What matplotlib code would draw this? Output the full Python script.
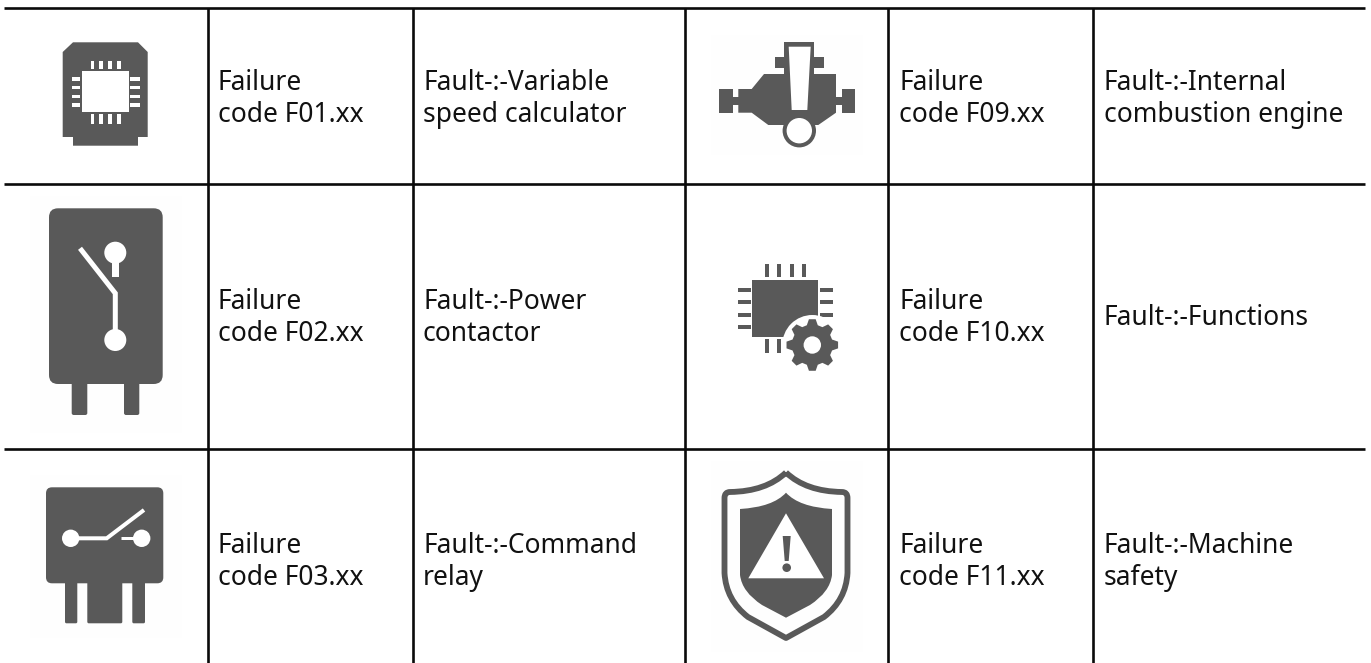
import numpy as np
import matplotlib
matplotlib.use('Agg')
import matplotlib.pyplot as plt
from matplotlib.patches import Circle, FancyBboxPatch, PathPatch, Polygon, Rectangle
from matplotlib.path import Path

# table contents
left_codes = [['Failure', 'code F01.xx'], ['Failure', 'code F02.xx'], ['Failure', 'code F03.xx']]
left_faults = [['Fault-:-Variable', 'speed calculator'], ['Fault-:-Power', 'contactor'], ['Fault-:-Command', 'relay']]
right_codes = [['Failure', 'code F09.xx'], ['Failure', 'code F10.xx'], ['Failure', 'code F11.xx']]
right_faults = [['Fault-:-Internal', 'combustion engine'], ['Fault-:-Functions'], ['Fault-:-Machine', 'safety']]

# grid and text positions, in pixels of the picture
col_lines = [207.5, 412.7, 684.7, 888, 1093.3]
row_lines = [7.5, 183.5, 449]
text_cols = [218, 423, 899, 1104]
row_baselines = [[89.5, 122], [309, 341], [553, 585]]
one_line_baseline = [106, 325, 569]

DARK = '#595959'
FAINT = '#fefefe'

fig = plt.figure(figsize=(13.71, 6.63), dpi=100)
ax = fig.add_axes([0, 0, 1, 1])
ax.set_xlim(0, 1371)
ax.set_ylim(663, 0)
ax.axis('off')


def rect(x0, y0, x1, y1, color=DARK, z=3):
    ax.add_patch(Rectangle((x0, y0), x1 - x0, y1 - y0, fc=color, ec='none', zorder=z))


def rrect(x0, y0, x1, y1, r, color=DARK, z=3):
    ax.add_patch(FancyBboxPatch((x0 + r, y0 + r), x1 - x0 - 2 * r, y1 - y0 - 2 * r,
                                boxstyle='round,pad=%f' % r, fc=color, ec='none', zorder=z))


def circ(x, y, r, color='white', z=4):
    ax.add_patch(Circle((x, y), r, fc=color, ec='none', zorder=z))


def poly(pts, color=DARK, z=3):
    ax.add_patch(Polygon(pts, closed=True, fc=color, ec='none', zorder=z))


def stroke(xs, ys, w, color='white', z=4):
    ax.plot(xs, ys, color=color, lw=w * 0.72, solid_capstyle='butt', solid_joinstyle='miter', zorder=z)


def chip_icon():
    poly([(73, 42.3), (138, 42.3), (147.7, 52), (147.7, 137), (138, 137), (138, 145.7),
          (73, 145.7), (73, 137), (62.7, 137), (62.7, 52)])
    rect(82, 71, 128.7, 111.7, 'white', 4)
    for x in [92.3, 101, 109.7, 118.7]:
        rect(x - 1.8, 60.7, x + 1.8, 69.3, 'white', 4)
        rect(x - 1.8, 114.3, x + 1.8, 124, 'white', 4)
    for y in [79, 87.6, 96.5, 105]:
        rect(71.7, y - 1.7, 80.3, y + 1.7, 'white', 4)
        rect(130, y - 1.7, 140, y + 1.7, 'white', 4)


def contactor_icon():
    rect(30, 196, 182, 433, FAINT, 1)
    rrect(49, 208.3, 162.7, 384, 9)
    rrect(71.7, 370, 87.3, 415, 2)
    rrect(124, 370, 139.3, 415, 2)
    circ(115.3, 252.7, 11)
    rect(111.7, 255, 119.3, 277, 'white', 4)
    stroke([80, 115.3, 115.3], [248.3, 293.3, 340], 5)
    circ(115.3, 340, 11)


def relay_icon():
    rect(30, 475, 182, 638, FAINT, 1)
    rrect(46, 487.3, 163.3, 583.3, 6)
    rrect(65, 575, 77.3, 623.3, 1.5)
    rrect(87.3, 575, 122.3, 623.3, 1.5)
    rrect(132.3, 575, 145, 623.3, 1.5)
    circ(70.7, 538.3, 8.7)
    circ(141.7, 538.3, 8.7)
    stroke([70.7, 106.7, 144], [538.3, 538.3, 510], 4)
    stroke([120.7, 140], [538.3, 538.3], 3)


def engine_icon():
    rect(711, 35, 863, 155, FAINT, 1)
    poly([(738.3, 89), (751.7, 89), (764, 74), (836, 74), (836, 112.7), (818.3, 125),
          (768.3, 125), (751.7, 112.7), (738.3, 112.7)])
    rect(719.3, 89, 732.7, 112.7)
    rect(732, 96.7, 739, 105)
    rect(841.7, 89, 855, 112.7)
    rect(835, 96.7, 842, 105)
    rect(775.3, 57.3, 824, 68)
    poly([(784.3, 42.3), (814.3, 42.3), (814.3, 76), (784.3, 76)])
    poly([(788.7, 46.7), (810.7, 46.7), (807.3, 110), (791.7, 110)], 'white', 4)
    circ(799.3, 130.7, 16.7, DARK, 4)
    circ(799.3, 130.7, 12.7, 'white', 5)


def gear_icon():
    rect(752.3, 280, 818.3, 336.7)
    for x in [766.7, 779.3, 791.7, 804.3]:
        rect(x - 2, 264.3, x + 2, 277.3)
    for x in [766.7, 779.3]:
        rect(x - 2, 339.3, x + 2, 352.7)
    for y in [290.3, 302.3, 314.7, 327]:
        rect(737.7, y - 2, 750.7, y + 2)
    for y in [290.3, 302.3, 314.7]:
        rect(820, y - 2, 833.3, y + 2)
    cx, cy = 812.3, 345
    circ(cx, cy, 30, 'white', 4)
    pts = []
    for k in range(8):
        a = k * np.pi / 4
        for da, r in [(-0.27, 20.5), (-0.13, 26), (0.13, 26), (0.27, 20.5)]:
            pts.append((cx + r * np.cos(a + da), cy + r * np.sin(a + da)))
    poly(pts, DARK, 5)
    circ(cx, cy, 8.7, 'white', 6)


def shield_icon():
    rect(711, 461, 863, 652, FAINT, 1)
    c = 786
    outer = [(c, 472.5), (766, 491.5), (730, 492), (724.5, 492), (724.5, 498), (724.5, 573),
             (726, 600), (748, 617), (c, 638)]
    right = [(2 * c - x, y) for x, y in outer[::-1]][1:]
    codes = [Path.MOVETO, Path.CURVE3, Path.CURVE3, Path.CURVE3, Path.CURVE3, Path.LINETO,
             Path.CURVE3, Path.CURVE3, Path.LINETO,
             Path.LINETO, Path.CURVE3, Path.CURVE3, Path.LINETO, Path.CURVE3, Path.CURVE3,
             Path.CURVE3, Path.CURVE3]
    ax.add_patch(PathPatch(Path(outer + right, codes), fc='none', ec=DARK, lw=4.2, zorder=3,
                           joinstyle='round'))
    inner = [(c, 492.7), (773, 507), (740, 509), (740, 575), (742, 592), (762, 605), (c, 617.7)]
    inner_right = [(2 * c - x, y) for x, y in inner[::-1]][1:]
    codes = [Path.MOVETO, Path.CURVE3, Path.CURVE3, Path.LINETO, Path.CURVE3, Path.CURVE3, Path.LINETO,
             Path.LINETO, Path.CURVE3, Path.CURVE3, Path.LINETO, Path.CURVE3, Path.CURVE3]
    ax.add_patch(PathPatch(Path(inner + inner_right, codes), fc=DARK, ec='none', zorder=3))
    poly([(c, 513.3), (748.3, 578.3), (824, 578.3)], 'white', 4)
    poly([(782.7, 536), (790.7, 536), (788.7, 561), (784.7, 561)], DARK, 5)
    circ(786.7, 567.7, 4.3, DARK, 5)


for icon in [chip_icon, contactor_icon, relay_icon, engine_icon, gear_icon, shield_icon]:
    icon()

# grid lines
for y in row_lines:
    ax.plot([4, 1365], [y, y], color='#0a0a0a', lw=1.9, solid_capstyle='butt', zorder=6)
for x in col_lines:
    ax.plot([x, x], [row_lines[0], 663], color='#0a0a0a', lw=1.9, solid_capstyle='butt', zorder=6)

# cell text
columns = [left_codes, left_faults, right_codes, right_faults]
for x, column in zip(text_cols, columns):
    for r, lines in enumerate(column):
        baselines = row_baselines[r] if len(lines) == 2 else [one_line_baseline[r]]
        for line, y in zip(lines, baselines):
            ax.text(x, y, line, family='Noto Sans', fontsize=19, color='#111111',
                    va='baseline', ha='left', zorder=7)

fig.savefig('out.png', dpi=100)
